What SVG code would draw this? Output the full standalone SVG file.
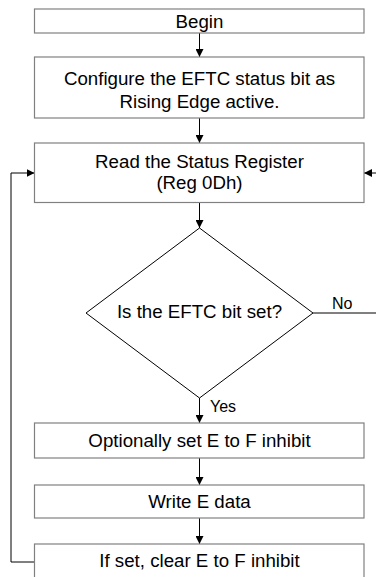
<svg xmlns="http://www.w3.org/2000/svg" width="376" height="577" viewBox="0 0 376 577">
<defs>
<marker id="ah" viewBox="0 0 10 10" refX="10" refY="5" markerWidth="8" markerHeight="8" markerUnits="userSpaceOnUse" orient="auto">
<path d="M0,0 L10,5 L0,10 z" fill="#000"/>
</marker>
<style>
.box{fill:#fff;stroke:#808080;stroke-width:1.2}
.dia{fill:#fff;stroke:#000;stroke-width:1}
.t{font-family:"Liberation Sans",Arial,sans-serif;font-size:18.7px;fill:#000;text-anchor:middle}
.l{font-family:"Liberation Sans",Arial,sans-serif;font-size:16px;fill:#000}
.c{fill:none;stroke:#000;stroke-width:1;marker-end:url(#ah)}
</style>
</defs>
<g id="connectors">
<path class="c" d="M199.5,33 V57"/>
<path class="c" d="M199.5,118 V143"/>
<path class="c" d="M199.5,202.5 V228"/>
<path class="c" d="M199.5,398 V423"/>
<path class="c" d="M199.5,458 V485"/>
<path class="c" d="M199.5,518 V544"/>
<path class="c" d="M313,313 H377 V173 H364"/>
<path class="c" d="M34.5,562 H11 V173 H34.5"/>
<text class="l" x="210" y="412">Yes</text>
<text class="l" x="332" y="309">No</text>
</g>
<g id="begin">
<rect class="box" x="34.5" y="9" width="329.5" height="24"/>
<text class="t" x="199.5" y="28">Begin</text>
</g>
<g id="configure">
<rect class="box" x="34.5" y="57" width="329.5" height="61"/>
<text class="t" x="199.5" y="85">Configure the EFTC status bit as</text>
<text class="t" x="199.5" y="107.5">Rising Edge active.</text>
</g>
<g id="read">
<rect class="box" x="34.5" y="143" width="329.5" height="59.5"/>
<text class="t" x="199.5" y="168">Read the Status Register</text>
<text class="t" x="199.5" y="188.5">(Reg 0Dh)</text>
</g>
<g id="decision">
<polygon class="dia" points="199.5,228 313,313 199.5,398 86,313"/>
<text class="t" x="199.5" y="318">Is the EFTC bit set?</text>
</g>
<g id="optional">
<rect class="box" x="34.5" y="423" width="329.5" height="35"/>
<text class="t" x="199.5" y="447">Optionally set E to F inhibit</text>
</g>
<g id="write">
<rect class="box" x="34.5" y="485" width="329.5" height="33"/>
<text class="t" x="199.5" y="508">Write E data</text>
</g>
<g id="clear">
<rect class="box" x="34.5" y="544" width="329.5" height="40"/>
<text class="t" x="199.5" y="567">If set, clear E to F inhibit</text>
</g>
</svg>
